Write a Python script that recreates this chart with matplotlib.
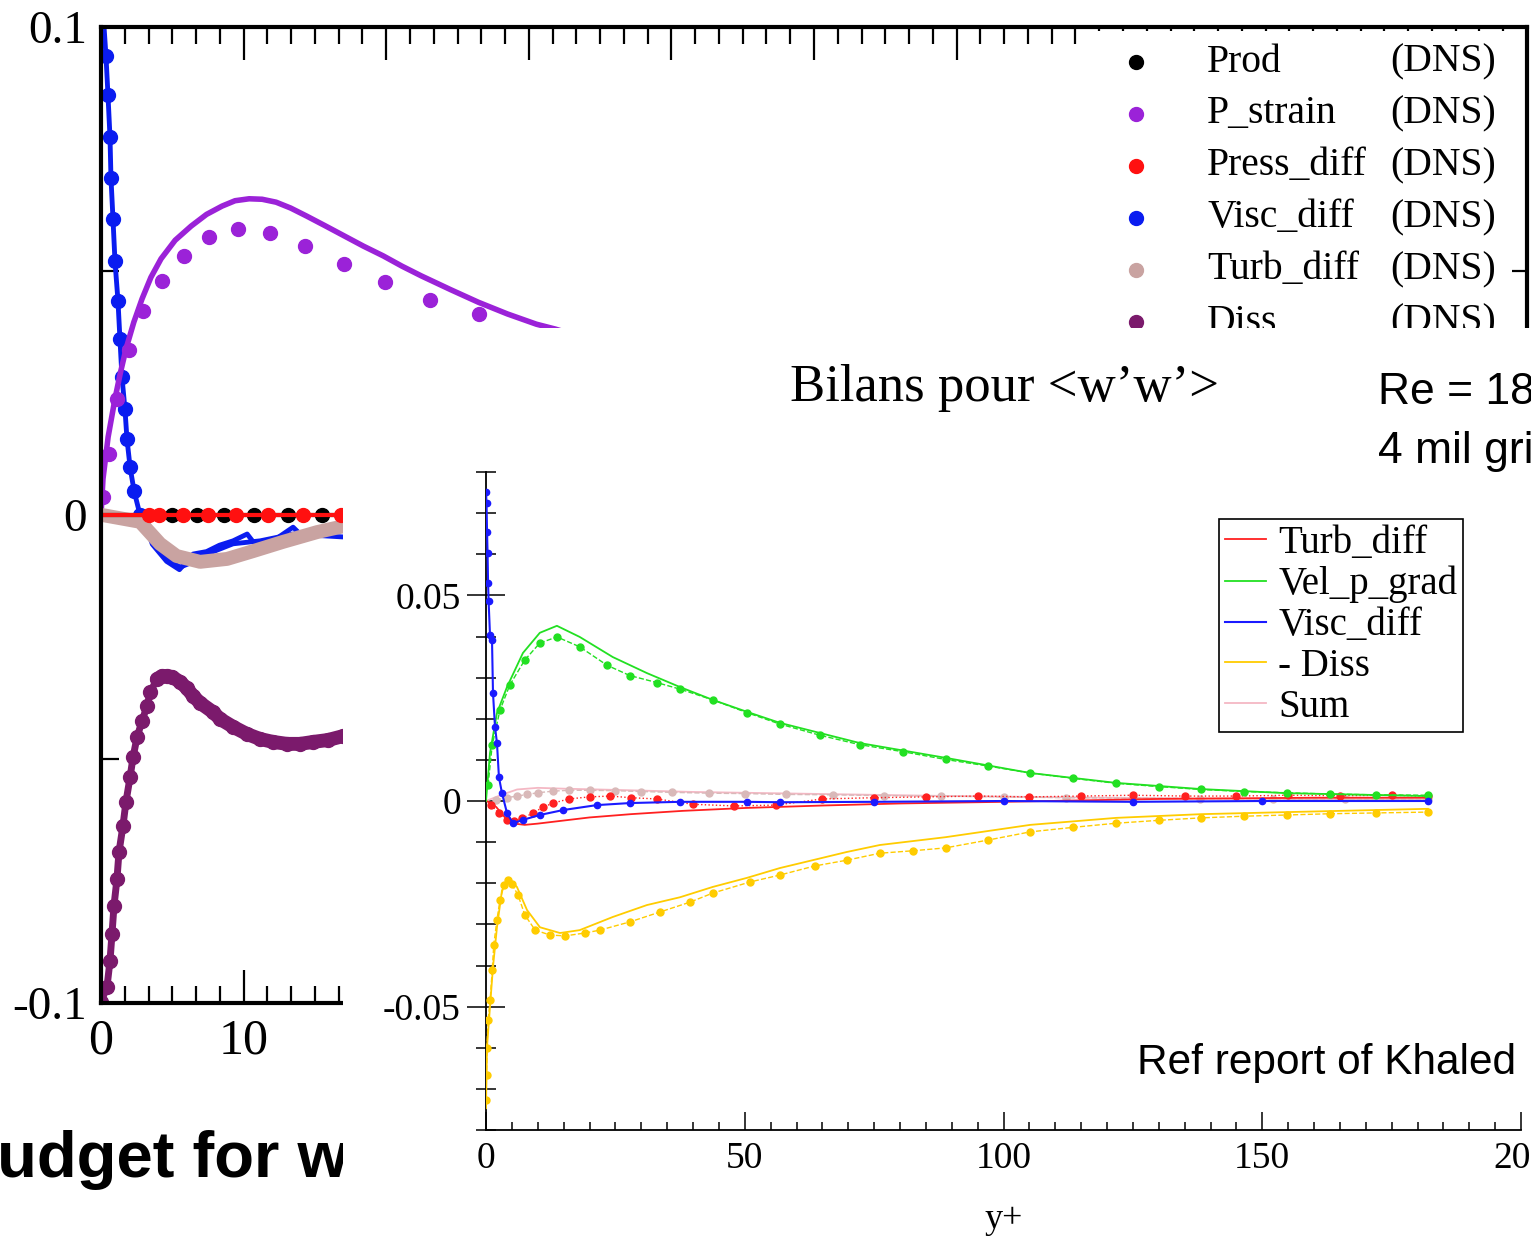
import matplotlib.pyplot as plt
from matplotlib.ticker import MultipleLocator
from matplotlib.patches import Rectangle

plt.rcParams['font.family'] = ['Liberation Serif', 'DejaVu Serif']

W, H = 1531, 1237
def fx(px):
    return px / W
def fy(py):
    return 1 - py / H

# ---------------- background chart (budget for w'w', near wall) ----------------
visc_x = [0.1, 0.35, 0.49, 0.63, 0.70, 0.84, 0.98, 1.19, 1.33, 1.47, 1.68, 1.82, 2.04, 2.32, 2.74,
          2.95, 3.3, 3.93, 4.63, 5.54, 6.46, 7.44, 9.26, 11.16, 13.47, 17.0, 22.0]
visc_y = [0.105, 0.094, 0.086, 0.0775, 0.069, 0.0607, 0.052, 0.0439, 0.036, 0.0283, 0.0217, 0.0156,
          0.0098, 0.0049, 0.0, 0.0008, -0.0018, -0.0055, -0.009, -0.0107, -0.0096, -0.008, -0.0059,
          -0.0053, -0.0039, -0.0045, -0.004]
visc_jag_x = [2.9, 3.6, 4.6, 5.5, 6.46, 7.4, 8.3, 9.26, 10.25, 10.67, 12.07, 13.47, 13.96, 17.0]
visc_jag_y = [0.0, -0.006, -0.0095, -0.0112, -0.008, -0.0075, -0.0062, -0.0053, -0.0039, -0.0055,
              -0.0053, -0.0025, -0.0039, -0.0029]

turb_x = [-0.3, 2.74, 4.14, 5.3, 6.95, 8.84, 10.67, 12.77, 15.16, 17.0, 20.0]
turb_y = [0.0002, -0.0014, -0.0059, -0.0084, -0.0096, -0.009, -0.0074, -0.0055, -0.0035, -0.0023, -0.001]

pstrain_x = [0.0, 0.14, 0.5, 0.98, 1.35, 1.75, 2.3, 2.88, 3.5, 4.21, 5.2, 6.32, 7.4, 8.49, 9.4,
             10.39, 11.3, 12.28, 13.3, 14.39, 15.7, 17.05, 18.4, 19.79, 21.1, 22.46, 24.5, 26.46,
             28.5, 30.53, 31.86, 36.4]
pstrain_y = [0.0, 0.0074, 0.016, 0.0238, 0.029, 0.034, 0.0395, 0.0443, 0.0487, 0.0525, 0.0563,
             0.0592, 0.0616, 0.0633, 0.0644, 0.0648, 0.0647, 0.0641, 0.0629, 0.0613, 0.0593, 0.0572,
             0.0551, 0.0531, 0.0510, 0.049, 0.0462, 0.0436, 0.0412, 0.0391, 0.0381, 0.034]
pstrain_dns_x = [0.14, 0.56, 1.12, 1.96, 2.95, 4.28, 5.82, 7.58, 9.61, 11.86, 14.32, 17.05, 19.93, 23.09, 26.53]
pstrain_dns_y = [0.0037, 0.0125, 0.0238, 0.0338, 0.0418, 0.048, 0.0531, 0.057, 0.0586, 0.0578, 0.0551,
                 0.0514, 0.0477, 0.0441, 0.0412]

diss_x = [0.0, 0.42, 0.63, 0.77, 0.91, 1.12, 1.26, 1.54, 1.75, 2.04, 2.25, 2.53, 2.88, 3.23, 3.45,
          3.93, 4.28, 4.63, 5.0, 5.54, 6.03, 6.46, 6.95, 7.86, 8.35, 9.26, 10.25, 11.16, 12.07,
          13.05, 13.96, 14.88, 15.93, 16.98, 20.0]
diss_y = [-0.0998, -0.0967, -0.0914, -0.0859, -0.0801, -0.0746, -0.0691, -0.0637, -0.0588, -0.0537,
          -0.0496, -0.0455, -0.0422, -0.0391, -0.0363, -0.0336, -0.0330, -0.0330, -0.0332, -0.0342,
          -0.0355, -0.0371, -0.0385, -0.0404, -0.0418, -0.0434, -0.0449, -0.0459, -0.0465, -0.0469,
          -0.0469, -0.0465, -0.0461, -0.0453, -0.043]

prod_x = [0.0, 1.0, 2.0, 3.0, 5.0, 6.7, 8.6, 10.7, 13.1, 15.5, 18.0]
prod_y = [0.0, 0.0, 0.0, 0.0, 0.0, 0.0, 0.0, 0.0, 0.0, 0.0, 0.0]
press_x = [0.0, 1.5, 3.4, 4.1, 5.75, 7.5, 9.5, 11.7, 14.2, 16.8, 19.5]
press_y = [0.0, 0.0, 0.0, 0.0, 0.0, 0.0, 0.0, 0.0, 0.0, 0.0, 0.0]

bg_names = ['Prod', 'P_strain', 'Press_diff', 'Visc_diff', 'Turb_diff', 'Diss']
bg_colors = ['black', '#9b22d8', '#ff1010', '#0a1cf0', '#c9a3a1', '#7b1a6c']

# ---------------- inset chart (Bilans pour <w'w'>) ----------------
green_x = [0, 0.77, 2.12, 4.05, 7.14, 10.4, 13.7, 18.1, 24.5, 31.1, 37.5, 43.8, 50.4, 56.8, 72.2,
           88.8, 105.2, 121.8, 138.2, 154.8, 182]
green_y = [0, 0.0117, 0.0214, 0.0277, 0.0360, 0.0409, 0.0426, 0.0399, 0.0350, 0.0311, 0.0277, 0.0246,
           0.0217, 0.0190, 0.0141, 0.0105, 0.0068, 0.0044, 0.0029, 0.0019, 0.0012]
green_dns_x = [0.4, 1.2, 2.7, 4.6, 7.5, 10.4, 13.7, 18.1, 23.4, 27.8, 33.0, 37.5, 43.8, 50.4, 56.8,
               64.5, 72.2, 80.5, 88.8, 97, 105.2, 113.5, 121.8, 130, 138.2, 146.5, 154.8, 163, 172, 182]
green_dns_y = [0.0039, 0.0136, 0.0221, 0.0282, 0.0343, 0.0384, 0.0399, 0.0375, 0.0330, 0.0305, 0.0288,
               0.0272, 0.0246, 0.0215, 0.0187, 0.0160, 0.0137, 0.0120, 0.0101, 0.0085, 0.0068, 0.0055,
               0.0043, 0.0035, 0.0028, 0.0023, 0.0020, 0.0017, 0.0015, 0.0014]

gold_x = [0, 0.19, 0.77, 1.35, 2.12, 3.09, 4.63, 5.98, 7.92, 10.42, 14.3, 18.1, 24.5, 31.1, 37.5,
          43.8, 50.4, 56.8, 63.1, 69.7, 76.1, 88.8, 105.2, 121.8, 138.2, 154.8, 182]
gold_y = [-0.0747, -0.0599, -0.0501, -0.0404, -0.0307, -0.0217, -0.0192, -0.0209, -0.0265, -0.0307,
          -0.0321, -0.0314, -0.0282, -0.0253, -0.0234, -0.0209, -0.0187, -0.0163, -0.0144, -0.0124,
          -0.0107, -0.0088, -0.0058, -0.0041, -0.0032, -0.0027, -0.0019]
gold_dns_x = [0.0, 0.1, 0.2, 0.4, 0.8, 1.2, 1.5, 2.1, 2.7, 3.5, 4.2, 5.0, 6.2, 7.5, 9.5, 12.4, 15.3,
              19.1, 22, 27.8, 33.6, 39.4, 43.8, 51, 56.8, 63.5, 69.7, 76.1, 82.5, 88.8, 97, 105.2,
              113.5, 121.8, 130, 138.2, 146.5, 154.8, 163, 172, 182]
gold_dns_y = [-0.0727, -0.0667, -0.060, -0.0533, -0.0484, -0.0411, -0.035, -0.029, -0.0241, -0.0204,
              -0.0192, -0.0202, -0.0229, -0.0277, -0.0314, -0.0326, -0.0328, -0.0321, -0.0314, -0.0294,
              -0.027, -0.0246, -0.0224, -0.0197, -0.018, -0.0158, -0.0144, -0.0127, -0.0121, -0.0114,
              -0.0095, -0.0075, -0.0064, -0.0054, -0.0047, -0.0041, -0.0037, -0.0034, -0.0031, -0.0029, -0.0027]

blue_x = [0, 0.1, 0.2, 0.3, 0.4, 0.5, 0.77, 1.16, 1.35, 1.74, 2.12, 2.5, 3.09, 4.05, 5.2, 7.1, 10.4,
          14.9, 21.4, 27.8, 37.5, 50.4, 56.8, 75, 100, 125, 150, 182]
blue_y = [0.0752, 0.0725, 0.0655, 0.0604, 0.0531, 0.0487, 0.0404, 0.0392, 0.0263, 0.018, 0.0141,
          0.0058, 0.0019, -0.0029, -0.0054, -0.0046, -0.0034, -0.0022, -0.0010, -0.0005, -0.0002,
          -0.0002, -0.0003, -0.0002, 0.0, -0.0002, 0.0, 0.0]

red_x = [0, 1, 2, 3, 4, 5.5, 7.5, 10, 14, 20, 28, 38, 50, 65, 80, 100, 130, 160, 182]
red_y = [0.0, -0.0005, -0.0015, -0.003, -0.0045, -0.0055, -0.0058, -0.0055, -0.0049, -0.0040, -0.0032,
         -0.0024, -0.0017, -0.0011, -0.0006, -0.0002, 0.0005, 0.0008, 0.0008]
red_dns_x = [1, 2.5, 4, 5.5, 7, 9, 11, 13, 16, 20, 24, 28, 33, 40, 48, 56, 65, 75, 85, 95, 105, 115,
             125, 135, 145, 155, 165, 175, 182]
red_dns_y = [-0.001, -0.003, -0.0045, -0.0048, -0.0042, -0.0030, -0.0015, -0.0005, 0.0005, 0.0010,
             0.0012, 0.0008, 0.0005, -0.0008, -0.0012, -0.0010, 0.0005, 0.0008, 0.0010, 0.0012, 0.0010,
             0.0012, 0.0014, 0.0012, 0.0012, 0.0014, 0.0013, 0.0014, 0.0012]

sum_x = [0, 3, 6, 10, 15, 25, 40, 60, 90, 120, 150, 182]
sum_y = [0, 0.0015, 0.0028, 0.0032, 0.0030, 0.0027, 0.0022, 0.0018, 0.0012, 0.0008, 0.0005, 0.0004]
tdns_x = [2, 4, 6, 8, 10, 13, 16, 20, 25, 30, 36, 43, 50, 58, 67, 77, 88, 100, 112, 125, 138, 152, 166, 182]
tdns_y = [0.0003, 0.0008, 0.0012, 0.0016, 0.0020, 0.0024, 0.0026, 0.0026, 0.0025, 0.0023, 0.0021,
          0.0019, 0.0018, 0.0016, 0.0015, 0.0013, 0.0012, 0.0010, 0.0008, 0.0007, 0.0006, 0.0005,
          0.0004, 0.0004]

inset_labels = ['Turb_diff', 'Vel_p_grad', 'Visc_diff', '- Diss', 'Sum']

fig = plt.figure(figsize=(15.31, 12.37), dpi=100)

# background axes
ax1 = fig.add_axes([fx(101), fy(1003), fx(1527) - fx(101), fy(27) - fy(1003)])
ax1.set_xlim(0, 100)
ax1.set_ylim(-0.1, 0.1)
ax1.plot(visc_x, visc_y, color='#0a1cf0', lw=3.5, marker='o', ms=10, markevery=slice(1, 15), zorder=2)
ax1.plot(visc_jag_x, visc_jag_y, color='#0a1cf0', lw=3.5, zorder=2)
ax1.plot(turb_x, turb_y, color='#c9a3a1', lw=10, solid_capstyle='round', zorder=2.2)
ax1.plot(pstrain_x, pstrain_y, color='#9b22d8', lw=4, zorder=2)
ax1.plot(pstrain_dns_x, pstrain_dns_y, 'o', color='#9b22d8', ms=10, zorder=2)
ax1.plot(diss_x, diss_y, color='#7b1a6c', lw=5, marker='o', ms=10, zorder=2)
ax1.plot(diss_x[15:], diss_y[15:], color='#7b1a6c', lw=10, solid_capstyle='round', zorder=2)
ax1.plot(prod_x, prod_y, color='black', lw=3, marker='o', ms=10, markevery=slice(4, None), zorder=2.4)
ax1.plot(press_x, press_y, color='#ff1010', lw=3, marker='o', ms=10, markevery=slice(2, None), zorder=2.5)

ax1.xaxis.set_major_locator(MultipleLocator(10))
ax1.xaxis.set_minor_locator(MultipleLocator(10 / 6))
ax1.set_yticks([-0.1, 0, 0.1])
ax1.set_yticklabels(['-0.1', '0', '0.1'])
ax1.yaxis.set_minor_locator(MultipleLocator(0.05))
ax1.tick_params(axis='x', which='major', direction='in', top=True, length=24, width=1.6,
                labelsize=36, pad=11)
ax1.tick_params(axis='x', which='minor', direction='in', top=True, length=12, width=1.6)
ax1.tick_params(axis='y', which='both', direction='in', right=True, length=13, width=1.6,
                labelsize=34, pad=10)
for s in ax1.spines.values():
    s.set_linewidth(3)

# legend of the background chart
def ax1x(px):
    return (px - 101) / 1426
def ax1y(py):
    return (1003 - py) / 976
ax1.add_patch(Rectangle((ax1x(1078), ax1y(345)), ax1x(1512) - ax1x(1078), ax1y(31) - ax1y(345),
                        transform=ax1.transAxes, facecolor='white', edgecolor='none', zorder=4))
for i, (name, col) in enumerate(zip(bg_names, bg_colors)):
    yy = ax1y(62 + 52 * i)
    ax1.plot([ax1x(1136)], [yy], 'o', color=col, ms=10, transform=ax1.transAxes, zorder=5)
    ax1.text(ax1x(1207), yy, name, transform=ax1.transAxes, fontsize=28.5, va='center', zorder=5)
    ax1.text(ax1x(1496), yy, '(DNS)', transform=ax1.transAxes, fontsize=28.5, va='center',
             ha='right', zorder=5)

fig.text(fx(-50), fy(1160), 'Budget for ww', family='Liberation Sans', fontweight='bold',
         fontsize=47, va='center', ha='left', zorder=3)

# white pasted panel
ov = fig.add_axes([fx(343), 0, 1 - fx(343), fy(328)], zorder=5)
ov.set_xticks([])
ov.set_yticks([])
for s in ov.spines.values():
    s.set_visible(False)
ov.set_facecolor('white')

# inset axes
ax2 = fig.add_axes([fx(486), fy(1130), fx(1521) - fx(486), fy(472) - fy(1130)], zorder=6)
ax2.patch.set_alpha(0)
ax2.set_xlim(0, 200)
ax2.set_ylim(-0.08, 0.08)

ax2.plot(sum_x, sum_y, color='#f4b8c4', lw=1.3, label=inset_labels[4], zorder=2)
ax2.plot(tdns_x, tdns_y, 'o--', color='#d9b9b9', ms=5, lw=1, zorder=2)
ax2.plot(red_x, red_y, color='#ff2020', lw=1.3, label=inset_labels[0], zorder=3)
ax2.plot(red_dns_x, red_dns_y, 'o:', color='#ff2020', ms=5, lw=1, zorder=3)
ax2.plot(green_x, green_y, color='#22e022', lw=1.3, label=inset_labels[1], zorder=3)
ax2.plot(green_dns_x, green_dns_y, 'o--', color='#22e022', ms=5, lw=1, zorder=3)
ax2.plot(gold_x, gold_y, color='#ffcc00', lw=1.3, label=inset_labels[3], zorder=3)
ax2.plot(gold_dns_x, gold_dns_y, 'o--', color='#ffcc00', ms=5, lw=1, zorder=3)
ax2.plot(blue_x, blue_y, color='#1a1aff', lw=1.5, label=inset_labels[2], zorder=4)
ax2.plot(blue_x, blue_y, 'o', color='#1a1aff', ms=4.5, zorder=4)

ax2.set_xticks([0, 50, 100, 150, 200])
ax2.xaxis.set_minor_locator(MultipleLocator(5))
ax2.set_yticks([-0.05, 0, 0.05])
ax2.set_yticklabels(['-0.05', '0', '0.05'])
ax2.yaxis.set_minor_locator(MultipleLocator(0.01))
ax2.tick_params(axis='x', which='major', direction='in', length=13, width=1.1, labelsize=27, pad=8)
ax2.tick_params(axis='x', which='minor', direction='in', length=6, width=1.1)
ax2.tick_params(axis='y', which='major', direction='inout', length=28, width=1.1, labelsize=27, pad=4)
ax2.tick_params(axis='y', which='minor', direction='inout', length=14, width=1.1)
ax2.spines['top'].set_visible(False)
ax2.spines['right'].set_visible(False)
ax2.spines['left'].set_linewidth(1.3)
ax2.spines['bottom'].set_linewidth(1.3)
ax2.set_xlabel('y+', fontsize=26, labelpad=20)

handles, labels = ax2.get_legend_handles_labels()
order = [labels.index(l) for l in inset_labels]
leg = ax2.legend([handles[i] for i in order], [labels[i] for i in order],
                 loc='upper left', bbox_to_anchor=((1219 - 486) / 1035, (1130 - 519) / 658),
                 fontsize=28, frameon=True, fancybox=False, edgecolor='black', framealpha=1,
                 handlelength=1.05, handletextpad=0.33, labelspacing=0.1, borderpad=0.15,
                 borderaxespad=0)
leg.get_frame().set_linewidth(1.2)

fig.text(fx(790), fy(388), "Bilans pour <w\u2019w\u2019>", fontsize=38, va='center', zorder=7)
fig.text(fx(1378), fy(392), 'Re = 180', family='Liberation Sans', fontsize=32, va='center', zorder=7)
fig.text(fx(1378), fy(452), '4 mil grid', family='Liberation Sans', fontsize=32, va='center', zorder=7)
fig.text(fx(1137), fy(1063), 'Ref report of Khaled', family='Liberation Sans', fontsize=30.5,
         va='center', zorder=7)

fig.savefig('out.png', dpi=100)
